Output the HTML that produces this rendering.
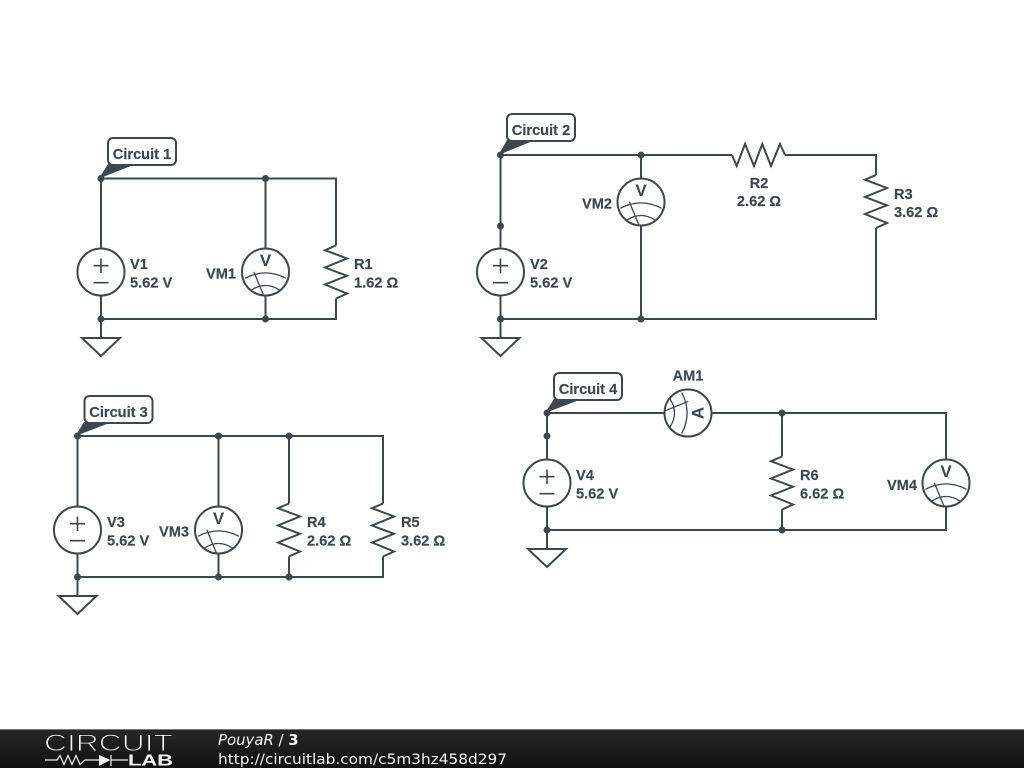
<!DOCTYPE html>
<html><head><meta charset="utf-8"><style>
html,body{margin:0;padding:0;background:#fff;width:1024px;height:768px;overflow:hidden}
svg{display:block}
.w{fill:none;stroke:#3f474d;stroke-width:2;stroke-linejoin:miter}
.t{font:bold 14.6px "Liberation Sans",sans-serif;fill:#3f474d;stroke:#3f474d;stroke-width:.15}
.m{font:bold 17px "Liberation Sans",sans-serif;fill:#3f474d;text-anchor:middle}
.c{text-anchor:middle}
.n{fill:#3f474d}
</style></head><body>
<svg width="1024" height="768" viewBox="0 0 1024 768" xmlns="http://www.w3.org/2000/svg">
<defs>
<linearGradient id="bar" x1="0" y1="0" x2="0" y2="1"><stop offset="0" stop-color="#272727"/><stop offset="1" stop-color="#111"/></linearGradient>
<g id="src" class="w"><circle r="23.500" style="fill:#fff"/><path d="M-7.500 -6.300H7.500M0 -13.500V1M-7.500 10.700H7.500" stroke-width="1.600"/></g>
<g id="met" class="w"><circle r="23.500" style="fill:#fff"/><path d="M-20.500 6.300Q0 -4.500 20.500 6.300M-14 18Q0 9 14 18M-11.700 -.3L-1.700 24" stroke-width="1.300"/></g>
<g id="gnd" class="w"><path d="M0 0V19M-19 19H19L0 37Z"/></g>
<path id="rv" class="w" d="M0 0L-11 4.700L11 13L-11 22L11 30.300L-11 39L11 48L0 53"/>
<path id="rh" class="w" d="M0 0L4.700 11L13 -11L22 11L30.300 -11L39 11L48 -11L53 0"/>
</defs>

<!-- Circuit 1 -->
<path class="w" d="M101 248.500V178.500H336V245.500M336 298.500V319H101V295.500M265.500 178.500V248.500M265.500 295.500V319"/>
<use href="#src" x="101" y="272"/><use href="#met" x="265.500" y="272"/>
<use href="#gnd" x="101" y="319"/><use href="#rv" x="336" y="245.500"/>
<g class="n"><circle cx="101" cy="178.500" r="3.500"/><circle cx="265.500" cy="178.500" r="3.500"/><circle cx="101" cy="319" r="3.500"/><circle cx="265.500" cy="319" r="3.500"/></g>
<path class="n" d="M99 178.500L108 164H136Z"/>
<rect class="w" x="108" y="138" width="68" height="27" rx="5" style="fill:#fff"/>
<text class="t c" x="142" y="159">Circuit 1</text>
<text class="m" x="265.500" y="266">V</text>
<text class="t" x="130" y="269">V1</text><text class="t" x="130" y="287.500">5.62 V</text>
<text class="t" x="206" y="278.500">VM1</text>
<text class="t" x="354" y="269">R1</text><text class="t" x="354" y="287.500">1.62 Ω</text>

<!-- Circuit 2 -->
<path class="w" d="M500.500 248.500V155H732M785 155H876V175M876 228V319H500.500V295.500M641 155V178.500M641 225.500V319"/>
<use href="#src" x="500.500" y="272"/><use href="#met" x="641" y="202"/>
<use href="#gnd" x="500.500" y="319"/><use href="#rh" x="732" y="155"/><use href="#rv" x="876" y="175"/>
<g class="n"><circle cx="500.500" cy="155" r="3.500"/><circle cx="500.500" cy="226" r="3.500"/><circle cx="500.500" cy="319" r="3.500"/><circle cx="641" cy="155" r="3.500"/><circle cx="641" cy="319" r="3.500"/></g>
<path class="n" d="M498.500 155L507 140H535Z"/>
<rect class="w" x="507" y="114" width="68" height="27" rx="5" style="fill:#fff"/>
<text class="t c" x="541" y="135">Circuit 2</text>
<text class="m" x="641" y="196">V</text>
<text class="t" x="530" y="269">V2</text><text class="t" x="530" y="287.500">5.62 V</text>
<text class="t" x="582" y="208.500">VM2</text>
<text class="t c" x="759" y="188">R2</text><text class="t c" x="759" y="206">2.62 Ω</text>
<text class="t" x="894" y="199">R3</text><text class="t" x="894" y="217">3.62 Ω</text>

<!-- Circuit 3 -->
<path class="w" d="M77.500 506.500V436H383V503.500M383 556.500V577H77.500V553.500M218.500 436V506.500M218.500 553.500V577M289 436V503.500M289 556.500V577"/>
<use href="#src" x="77.500" y="530"/><use href="#met" x="218.500" y="530"/>
<use href="#gnd" x="77.500" y="577"/><use href="#rv" x="289" y="503.500"/><use href="#rv" x="383" y="503.500"/>
<g class="n"><circle cx="77.500" cy="436" r="3.500"/><circle cx="218.500" cy="436" r="3.500"/><circle cx="289" cy="436" r="3.500"/><circle cx="77.500" cy="577" r="3.500"/><circle cx="218.500" cy="577" r="3.500"/><circle cx="289" cy="577" r="3.500"/></g>
<path class="n" d="M75.500 436L84 422H112Z"/>
<rect class="w" x="84.500" y="396" width="68" height="27" rx="5" style="fill:#fff"/>
<text class="t c" x="118.500" y="417">Circuit 3</text>
<text class="m" x="218.500" y="524">V</text>
<text class="t" x="107" y="527">V3</text><text class="t" x="107" y="545.500">5.62 V</text>
<text class="t" x="159" y="536.500">VM3</text>
<text class="t" x="307" y="527">R4</text><text class="t" x="307" y="545.500">2.62 Ω</text>
<text class="t" x="401" y="527">R5</text><text class="t" x="401" y="545.500">3.62 Ω</text>

<!-- Circuit 4 -->
<path class="w" d="M547 459.500V413H664.500M711.500 413H946V459.500M946 506.500V530H547V506.500M782 413V456.500M782 509.500V530"/>
<use href="#src" x="547" y="483"/>
<g transform="translate(688 413) rotate(90)"><use href="#met"/></g>
<text class="m" transform="translate(703.500 413) rotate(-90)" x="0" y="0">A</text>
<use href="#met" x="946" y="483"/>
<use href="#gnd" x="547" y="530"/><use href="#rv" x="782" y="456.500"/>
<g class="n"><circle cx="547" cy="413" r="3.500"/><circle cx="547" cy="436" r="3.500"/><circle cx="547" cy="530" r="3.500"/><circle cx="782" cy="413" r="3.500"/><circle cx="782" cy="530" r="3.500"/></g>
<path class="n" d="M545 413L554 399H582Z"/>
<rect class="w" x="554" y="373" width="68" height="27" rx="5" style="fill:#fff"/>
<text class="t c" x="588" y="394">Circuit 4</text>
<text class="m" x="946" y="477">V</text>
<text class="t c" x="688" y="380.500">AM1</text>
<text class="t" x="576" y="480">V4</text><text class="t" x="576" y="498.500">5.62 V</text>
<text class="t" x="800" y="480">R6</text><text class="t" x="800" y="498.500">6.62 Ω</text>
<text class="t" x="887" y="490">VM4</text>

<!-- Footer -->
<rect x="0" y="729" width="1024" height="39" fill="url(#bar)"/>
<rect x="0" y="729" width="1024" height="1" fill="#777"/>
<text x="44" y="751" textLength="129" lengthAdjust="spacingAndGlyphs" font-family="Liberation Sans,sans-serif" font-size="24.500" fill="#f4f4f4" stroke="#1c1c1c" stroke-width="1">CIRCUIT</text>
<path d="M45 760H57L60 755.500L64 764.500L68 755.500L72 764.500L76 755.500L80 764.500L85 760H99M111 760H128M111 755V766" fill="none" stroke="#f2f2f2" stroke-width="1.200"/>
<path d="M99 755L110.500 760L99 766Z" fill="#f2f2f2"/>
<text x="128" y="765.700" textLength="45" lengthAdjust="spacingAndGlyphs" font-family="Liberation Sans,sans-serif" font-weight="bold" font-size="16" fill="#f2f2f2">LAB</text>
<text x="218" y="745" font-family="DejaVu Sans,sans-serif" font-size="14.900" fill="#f4f4f4"><tspan font-style="italic">PouyaR</tspan> / <tspan font-weight="bold">3</tspan></text>
<text x="218" y="764" textLength="289" lengthAdjust="spacingAndGlyphs" font-family="DejaVu Sans,sans-serif" font-size="14.500" fill="#f4f4f4">http://circuitlab.com/c5m3hz458d297</text>
</svg>
</body></html>
